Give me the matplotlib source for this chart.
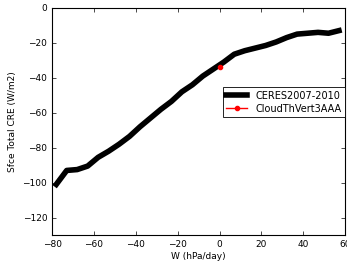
import matplotlib
matplotlib.use("Agg")
import matplotlib.pyplot as plt

omega = [-78, -73, -68, -63, -58, -53, -48, -43, -38, -33, -28, -23, -18, -13, -8, -3,
         2, 7, 12, 17, 22, 27, 32, 37, 42, 47, 52, 57]
ceres = [-101, -93, -92.5, -90.5, -85.5, -82, -78, -73.5, -68, -63, -58, -53.5, -48, -44,
         -39, -35, -31, -26.5, -24.5, -23, -21.5, -19.5, -17, -15, -14.5, -14, -14.5, -13]
model_x = [0]
model_y = [-34]

fig = plt.figure(figsize=(3.47, 2.63), dpi=100)
ax = fig.add_axes([0.15, 0.106, 0.845, 0.864])
ax.plot(omega, ceres, color='black', lw=4, label='CERES2007-2010')
ax.plot(model_x, model_y, color='red', marker='o', ms=3, lw=1, label='CloudThVert3AAA')
ax.set_xlim(-80, 60)
ax.set_ylim(-130, 0)
ax.set_xticks([-80, -60, -40, -20, 0, 20, 40, 60])
ax.set_yticks([0, -20, -40, -60, -80, -100, -120])
ax.tick_params(direction='in', top=True, right=True, labelsize=6.5, length=3, width=0.5)
for s in ax.spines.values():
    s.set_linewidth(0.8)
ax.set_xlabel('W (hPa/day)', fontsize=6.5, labelpad=2)
ax.set_ylabel('Sfce Total CRE (W/m2)', fontsize=6.5)
leg = ax.legend(loc='center right', bbox_to_anchor=(0.998, 0.585), fontsize=7, fancybox=False,
                framealpha=1, edgecolor='black', borderaxespad=0, handlelength=2.2,
                labelspacing=0.3, borderpad=0.35)
leg.get_frame().set_linewidth(0.6)
fig.savefig('out.png', dpi=100)
